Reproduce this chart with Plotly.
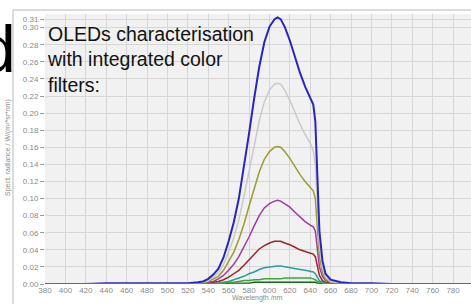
import plotly.graph_objects as go

wavelength = [380, 400, 420, 440, 460, 480, 500, 520, 530, 535, 540, 545, 550, 555, 560, 565, 570, 575,
              580, 585, 590, 595, 600, 605, 608, 611, 615, 620, 625, 630, 635, 640, 643, 645, 647, 649,
              652, 655, 660, 670, 680, 700, 720, 740, 760, 780, 800]

blue = [0.000, 0.000, 0.000, 0.001, 0.001, 0.001, 0.001, 0.001, 0.002, 0.003, 0.006, 0.011, 0.018, 0.031,
        0.050, 0.072, 0.100, 0.136, 0.176, 0.217, 0.254, 0.283, 0.301, 0.310, 0.312, 0.310, 0.301, 0.285,
        0.265, 0.247, 0.231, 0.218, 0.210, 0.190, 0.130, 0.062, 0.027, 0.012, 0.005, 0.002, 0.001, 0.001,
        0.000, 0.000, 0.000, 0.000, 0.000]
grey = [0, 0, 0, 0, 0, 0, 0, 0, 0.001, 0.002, 0.004, 0.008, 0.013, 0.023, 0.037, 0.054, 0.075, 0.102,
        0.133, 0.163, 0.191, 0.213, 0.227, 0.234, 0.235, 0.234, 0.227, 0.215, 0.200, 0.187, 0.175, 0.165,
        0.156, 0.140, 0.095, 0.045, 0.019, 0.008, 0.003, 0.001, 0, 0, 0, 0, 0, 0, 0]
olive = [0, 0, 0, 0, 0, 0, 0, 0, 0.001, 0.001, 0.003, 0.006, 0.009, 0.016, 0.026, 0.037, 0.052, 0.070,
         0.091, 0.112, 0.131, 0.146, 0.155, 0.160, 0.161, 0.160, 0.155, 0.147, 0.137, 0.128, 0.120, 0.113,
         0.109, 0.100, 0.068, 0.032, 0.013, 0.006, 0.002, 0.001, 0, 0, 0, 0, 0, 0, 0]
purple = [0, 0, 0, 0, 0, 0, 0, 0, 0.001, 0.001, 0.002, 0.003, 0.006, 0.010, 0.016, 0.023, 0.032, 0.043,
          0.055, 0.068, 0.080, 0.089, 0.094, 0.097, 0.098, 0.097, 0.094, 0.090, 0.084, 0.078, 0.073, 0.069,
          0.067, 0.062, 0.042, 0.020, 0.009, 0.004, 0.002, 0.001, 0, 0, 0, 0, 0, 0, 0]
red = [0, 0, 0, 0, 0, 0, 0, 0, 0.000, 0.001, 0.001, 0.002, 0.003, 0.005, 0.008, 0.012, 0.016, 0.022,
       0.028, 0.035, 0.041, 0.045, 0.048, 0.050, 0.050, 0.050, 0.048, 0.046, 0.043, 0.040, 0.038, 0.036,
       0.035, 0.032, 0.021, 0.010, 0.004, 0.002, 0.001, 0, 0, 0, 0, 0, 0, 0, 0]
teal = [0, 0, 0, 0, 0, 0, 0, 0, 0, 0, 0.001, 0.001, 0.001, 0.002, 0.003, 0.005, 0.007, 0.009,
        0.012, 0.014, 0.017, 0.019, 0.020, 0.021, 0.021, 0.021, 0.020, 0.019, 0.018, 0.017, 0.016, 0.015,
        0.014, 0.012, 0.008, 0.004, 0.002, 0.001, 0, 0, 0, 0, 0, 0, 0, 0, 0]
green = [0, 0, 0, 0, 0, 0, 0, 0, 0, 0, 0, 0, 0.001, 0.001, 0.002, 0.002, 0.003, 0.004,
         0.004, 0.005, 0.005, 0.006, 0.006, 0.006, 0.006, 0.006, 0.007, 0.007, 0.007, 0.007, 0.007, 0.007,
         0.006, 0.005, 0.003, 0.002, 0.001, 0.001, 0, 0, 0, 0, 0, 0, 0, 0, 0]
darkgreen = [0, 0, 0, 0, 0, 0, 0, 0, 0, 0, 0, 0, 0, 0, 0.001, 0.001, 0.001, 0.001,
             0.001, 0.002, 0.002, 0.002, 0.002, 0.002, 0.002, 0.002, 0.002, 0.002, 0.002, 0.002, 0.002, 0.002,
             0.002, 0.002, 0.001, 0.001, 0, 0, 0, 0, 0, 0, 0, 0, 0, 0, 0]

series = [
    ("darkgreen", darkgreen, "#1f5f2a", 1.4),
    ("teal", teal, "#2a9d9d", 1.5),
    ("red", red, "#9e2424", 1.5),
    ("purple", purple, "#a33aa3", 1.5),
    ("olive", olive, "#9d9a30", 1.5),
    ("grey", grey, "#c9c9c9", 1.5),
    ("blue", blue, "#2626c2", 2.0),
    ("green", green, "#3aa63a", 1.5),
]

x_ticks = list(range(380, 801, 20))
y_ticks = [0.00, 0.02, 0.04, 0.06, 0.08, 0.10, 0.12, 0.14, 0.16, 0.18, 0.20, 0.22, 0.24, 0.26, 0.28, 0.30, 0.31]
y_tick_text = ["%.2f" % v for v in y_ticks]

fig = go.Figure()
for name, vals, col, w in series:
    fig.add_trace(go.Scatter(x=wavelength, y=vals, mode="lines", name=name,
                             line=dict(color=col, width=w), showlegend=False, hoverinfo="skip"))

W, H = 471, 304
ml, mr, mt, mb = 45, 0, 14, 20
pw, ph = W - ml - mr, H - mt - mb


def px(xp):
    return (xp - ml) / pw


def py(yp):
    return (H - mb - yp) / ph


tickfont = dict(family="Liberation Sans, Arial, sans-serif", size=8, color="#8a8a8a")

fig.update_layout(
    width=W, height=H,
    margin=dict(l=ml, r=mr, t=mt, b=mb, pad=0),
    paper_bgcolor="white",
    plot_bgcolor="#f1f1f1",
    hovermode=False,
    xaxis=dict(range=[380, 797.6], tickvals=x_ticks, ticktext=[str(v) for v in x_ticks],
               showgrid=True, gridcolor="#d6d6d6", gridwidth=1, zeroline=False,
               ticks="", tickfont=tickfont, showline=False, automargin=False),
    yaxis=dict(range=[0, 0.316], tickvals=y_ticks, ticktext=y_tick_text,
               showgrid=True, gridcolor="#d6d6d6", gridwidth=1, zeroline=False,
               ticks="outside", ticklen=4, tickcolor="#9a9a9a", tickfont=tickfont, showline=False,
               automargin=False),
    font=dict(family="Liberation Sans, Arial, sans-serif"),
)

fig.add_annotation(xref="paper", yref="paper", x=px(45), y=py(21), xanchor="left", yanchor="top",
                   text="OLEDs characterisation<br>with integrated color<br>filters:", align="left",
                   showarrow=False, font=dict(family="Liberation Sans, Arial, sans-serif", size=19.5, color="#111111"))
fig.add_annotation(xref="paper", yref="paper", x=px(257), y=py(298), xanchor="center", yanchor="middle",
                   text="Wavelength /nm", showarrow=False,
                   font=dict(family="Liberation Sans, Arial, sans-serif", size=7, color="#8a8a8a"))
fig.add_annotation(xref="paper", yref="paper", x=px(8), y=py(148), xanchor="center", yanchor="middle",
                   text="Spect. radiance / W/(m²*sr*nm)", textangle=-90, showarrow=False,
                   font=dict(family="Liberation Sans, Arial, sans-serif", size=7, color="#8a8a8a"))
fig.add_annotation(xref="paper", yref="paper", x=px(18), y=py(10), xanchor="right", yanchor="top",
                   text="d", showarrow=False,
                   font=dict(family="Liberation Sans, Arial, sans-serif", size=66, color="#000000"))

fig.add_shape(type="line", xref="paper", yref="paper", x0=px(13), x1=px(13), y0=py(10), y1=py(304),
              line=dict(color="#b8b8b8", width=1))
fig.add_shape(type="line", xref="paper", yref="paper", x0=px(13), x1=px(471), y0=py(10), y1=py(10),
              line=dict(color="#b8b8b8", width=1))

fig.write_html("out.html", config={"displayModeBar": False, "staticPlot": True},
               post_script="document.body.style.margin='0';document.body.style.overflow='hidden';")
